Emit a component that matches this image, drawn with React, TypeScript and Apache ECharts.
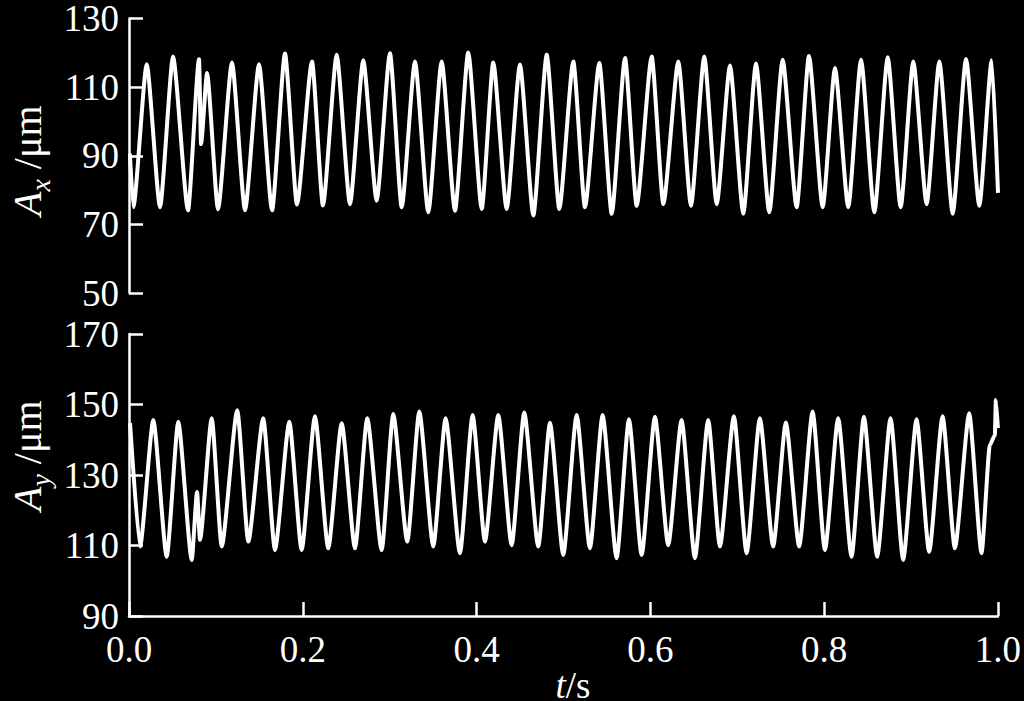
import React, { useEffect, useRef } from "react";
import * as echarts from "echarts";

const FONT = "'Liberation Serif', 'Times New Roman', serif";

const xTicks = [0, 0.2, 0.4, 0.6, 0.8, 1.0];
const axTicks = [50, 70, 90, 110, 130];
const ayTicks = [90, 110, 130, 150, 170];

const axTime = [
  0.001, 0.005, 0.0204, 0.0357, 0.0507, 0.0679, 0.0806, 0.0829, 0.0898, 0.1024,
  0.1185, 0.1335, 0.1496, 0.1646, 0.1795, 0.1933, 0.2106, 0.2232, 0.239, 0.2543,
  0.2696, 0.285, 0.3003, 0.3138, 0.3291, 0.3444, 0.3598, 0.3751, 0.3904, 0.4059,
  0.4192, 0.4346, 0.4499, 0.4653, 0.4807, 0.4952, 0.5113, 0.5247, 0.5412, 0.5555,
  0.5708, 0.5842, 0.6015, 0.6149, 0.6321, 0.6467, 0.662, 0.6763, 0.6916, 0.7069,
  0.7215, 0.7368, 0.7522, 0.7683, 0.7825, 0.7983, 0.8124, 0.8277, 0.8424, 0.8577,
  0.8731, 0.888, 0.9025, 0.9179, 0.9325, 0.9479, 0.9632, 0.9785, 0.9928, 1.0,
];
const axValue = [
  90.6, 75.0, 116.7, 75.0, 118.9, 74.1, 118.1, 93.4, 114.1, 74.4,
  117.2, 74.1, 116.7, 74.1, 119.8, 75.8, 117.5, 75.5, 119.4, 75.9,
  117.8, 76.9, 119.9, 75.0, 117.5, 73.5, 117.5, 74.0, 120.1, 74.5,
  117.2, 74.5, 116.6, 72.6, 119.4, 74.5, 117.5, 75.0, 117.0, 73.1,
  118.5, 75.4, 118.9, 75.9, 117.5, 75.4, 118.9, 75.9, 116.3, 73.1,
  116.9, 73.5, 118.0, 75.0, 119.1, 75.0, 115.6, 75.0, 118.0, 73.5,
  118.7, 75.0, 117.5, 75.9, 117.5, 73.1, 118.2, 75.4, 117.8, 79.2,
];

const ayTime = [
  0.0012, 0.0127, 0.028, 0.0434, 0.0567, 0.0722, 0.0783, 0.0817, 0.0952, 0.1067,
  0.1246, 0.1373, 0.1545, 0.168, 0.1845, 0.1987, 0.214, 0.2293, 0.2448, 0.2601,
  0.2742, 0.2908, 0.3041, 0.3203, 0.3341, 0.3502, 0.3644, 0.3809, 0.3955, 0.4097,
  0.425, 0.4404, 0.4549, 0.471, 0.4845, 0.4998, 0.5152, 0.5305, 0.5451, 0.5612,
  0.5754, 0.59, 0.6053, 0.6206, 0.636, 0.6513, 0.6666, 0.6801, 0.6962, 0.7108,
  0.7261, 0.7414, 0.756, 0.7713, 0.7868, 0.8009, 0.8162, 0.8316, 0.8458, 0.8611,
  0.8765, 0.891, 0.9064, 0.9209, 0.9364, 0.9505, 0.967, 0.9812, 0.9908, 0.9965,
  0.9977, 1.0,
];
const ayValue = [
  144.7, 109.7, 145.6, 106.8, 145.1, 105.9, 125.2, 111.6, 146.1, 109.7,
  148.4, 111.1, 146.1, 108.7, 145.1, 108.7, 146.7, 109.2, 144.7, 109.2,
  146.1, 108.7, 147.3, 111.1, 148.0, 109.7, 146.1, 107.8, 147.0, 111.1,
  147.0, 110.1, 147.7, 109.7, 144.8, 107.3, 147.0, 109.2, 147.0, 106.4,
  145.8, 107.3, 146.5, 110.1, 145.6, 106.4, 145.6, 109.7, 146.7, 107.8,
  146.1, 109.7, 144.9, 109.7, 148.0, 108.7, 146.1, 106.8, 146.5, 106.8,
  146.1, 105.9, 145.8, 108.2, 146.7, 109.2, 147.5, 107.8, 138.5, 141.3,
  151.3, 143.3,
];

const white = "#ffffff";

function yAxisCfg(gridIndex: number, ticks: number[]) {
  return {
    type: "value",
    gridIndex,
    min: ticks[0],
    max: ticks[ticks.length - 1],
    interval: ticks[1] - ticks[0],
    axisLine: { show: true, lineStyle: { color: white, width: 2.5 } },
    axisTick: { show: true, inside: true, length: 14, lineStyle: { color: white, width: 2.5 } },
    axisLabel: { color: white, fontSize: 37, lineHeight: 28, fontFamily: FONT, margin: 10 },
    splitLine: { show: false },
  };
}

function nameRich(sub: string) {
  return {
    text: `{a|A}{s|${sub}}{n| /μm}`,
    rich: {
      a: { fontSize: 40, fontStyle: "italic", fontFamily: FONT, fill: white, lineHeight: 54, verticalAlign: "middle" },
      s: { fontSize: 28, fontStyle: "italic", fontFamily: FONT, fill: white, lineHeight: 28, verticalAlign: "bottom" },
      n: { fontSize: 40, fontFamily: FONT, fill: white, lineHeight: 54, verticalAlign: "middle" },
    },
  };
}

export default function App() {
  const ref = useRef<HTMLDivElement>(null);
  useEffect(() => {
    if (!ref.current) return;
    const chart = echarts.init(ref.current, null, { renderer: "svg" });
    const top = axTime.map((t, i) => [t, axValue[i]]);
    const bot = ayTime.map((t, i) => [t, ayValue[i]]);
    chart.setOption({
      animation: false,
      backgroundColor: "#000000",
      grid: [
        { left: 129, top: 11, width: 869, height: 282 },
        { left: 129, top: 334, width: 869, height: 282 },
      ],
      xAxis: [
        { type: "value", gridIndex: 0, min: 0, max: 1, show: false },
        {
          type: "value",
          gridIndex: 1,
          min: xTicks[0],
          max: xTicks[xTicks.length - 1],
          interval: 0.2,
          axisLine: { show: true, lineStyle: { color: white, width: 2.5 } },
          axisTick: { show: true, inside: true, length: 14, lineStyle: { color: white, width: 2.5 } },
          axisLabel: {
            color: white,
            fontSize: 37,
            fontFamily: FONT,
            margin: 15,
            formatter: (v: number) => v.toFixed(1),
          },
          splitLine: { show: false },
        },
      ],
      yAxis: [yAxisCfg(0, axTicks), yAxisCfg(1, ayTicks)],
      series: [
        {
          type: "line",
          xAxisIndex: 0,
          yAxisIndex: 0,
          data: top,
          showSymbol: false,
          smooth: 0.2,
          smoothMonotone: "x",
          lineStyle: { color: white, width: 4 },
        },
        {
          type: "line",
          xAxisIndex: 1,
          yAxisIndex: 1,
          data: bot,
          showSymbol: false,
          smooth: 0.2,
          smoothMonotone: "x",
          lineStyle: { color: white, width: 4 },
        },
      ],
      graphic: [
        {
          type: "text",
          x: 27,
          y: 216,
          rotation: Math.PI / 2,
          style: { ...nameRich("x"), align: "left", verticalAlign: "middle" },
        },
        {
          type: "text",
          x: 27,
          y: 511,
          rotation: Math.PI / 2,
          style: { ...nameRich("y"), align: "left", verticalAlign: "middle" },
        },
        {
          type: "text",
          x: 573,
          y: 699,
          style: {
            text: "{t|t}{n|/s}",
            align: "center",
            verticalAlign: "bottom",
            rich: {
              t: { fontSize: 37, fontStyle: "italic", fontFamily: FONT, fill: white, lineHeight: 28 },
              n: { fontSize: 37, fontFamily: FONT, fill: white, lineHeight: 28 },
            },
          },
        },
      ],
    });
    return () => chart.dispose();
  }, []);
  return (
    <div
      ref={ref}
      style={{ position: "fixed", left: 0, top: 0, width: 1024, height: 701, background: "#000" }}
    />
  );
}
